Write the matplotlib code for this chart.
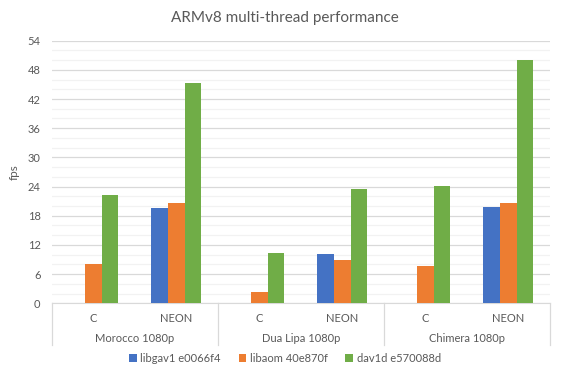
import numpy as np
import matplotlib
matplotlib.use("Agg")
import matplotlib.pyplot as plt

plt.rcParams['font.family'] = ['Lato', 'DejaVu Sans']

groups = ['Morocco 1080p', 'Dua Lipa 1080p', 'Chimera 1080p']
modes = ['C', 'NEON']
series = ['libgav1 e0066f4', 'libaom 40e870f', 'dav1d e570088d']
libgav1 = [np.nan, 19.6, np.nan, 10.1, np.nan, 19.7]
libaom = [8.0, 20.6, 2.3, 8.85, 7.6, 20.6]
dav1d = [22.35, 45.2, 10.3, 23.4, 24.2, 50.0]
colors = ['#4472C4', '#ED7D31', '#70AD47']

fig = plt.figure(figsize=(5.7, 3.76), dpi=100)
ax = fig.add_axes([0.0907, 0.1934, 0.874, 0.6985])

x = np.arange(6) + 0.5
w = 0.2
for i, (vals, name) in enumerate(zip([libgav1, libaom, dav1d], series)):
    ax.bar(x + (i - 1) * w, vals, w, color=colors[i], label=name, zorder=3)

ax.set_xlim(0, 6)
ax.set_ylim(0, 54)
ax.set_yticks(np.arange(0, 55, 6))
ax.set_yticks(np.arange(0, 55, 2), minor=True)
ax.grid(axis='y', which='major', color='#D9D9D9', lw=0.9, zorder=0)
ax.grid(axis='y', which='minor', color='#F2F2F2', lw=0.9, zorder=0)
ax.tick_params(axis='y', which='both', length=0, labelsize=8, labelcolor='#595959', pad=8)
for s in ['top', 'right', 'left']:
    ax.spines[s].set_visible(False)
ax.spines['bottom'].set_color('#D9D9D9')

ax.set_xticks(x)
ax.set_xticklabels(modes * 3)
ax.tick_params(axis='x', length=0, labelsize=8, labelcolor='#595959', pad=7)

# group labels and separators
for g, name in enumerate(groups):
    ax.text(2 * g + 1, -0.135, name, transform=ax.get_xaxis_transform(),
            ha='center', va='center', fontsize=8, color='#595959')
for xs in [0, 2, 4, 6]:
    ax.plot([xs, xs], [0, -0.16], transform=ax.get_xaxis_transform(),
            color='#D9D9D9', lw=0.9, clip_on=False)

ax.set_ylabel('fps', fontsize=8.5, color='#595959', labelpad=6)
fig.text(0.5, 0.953, 'ARMv8 multi-thread performance', ha='center', va='center',
         fontsize=11, color='#595959')

fig.legend(loc='center', bbox_to_anchor=(0.5, 0.046), ncol=3, frameon=False,
           fontsize=8, handlelength=0.7, handleheight=0.7, columnspacing=1.6,
           handletextpad=0.3, labelcolor='#595959')

fig.savefig('out.png', dpi=100)
